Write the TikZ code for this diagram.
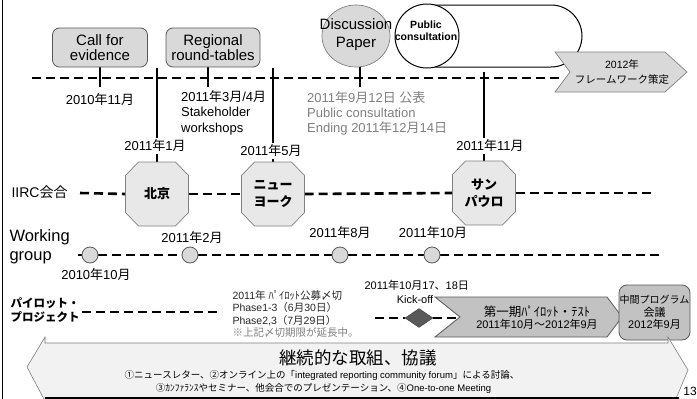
\documentclass[tikz,border=0pt]{standalone}
\usepackage{fontspec}
\setmainfont{Liberation Sans}
\newfontfamily\jpfont{Noto Sans CJK JP}
\usetikzlibrary{shapes.geometric}
\XeTeXinterchartokenstate=1
\newXeTeXintercharclass\cjkclass
\newcount\mycc
\mycc="3000
\loop\XeTeXcharclass\mycc=\cjkclass \advance\mycc by 1 \ifnum\mycc<"A000 \repeat
\mycc="FF00
\loop\XeTeXcharclass\mycc=\cjkclass \advance\mycc by 1 \ifnum\mycc<"FFF0 \repeat
\mycc="2460
\loop\XeTeXcharclass\mycc=\cjkclass \advance\mycc by 1 \ifnum\mycc<"2500 \repeat
\XeTeXcharclass"203B=\cjkclass
\XeTeXinterchartoks 0 \cjkclass = {\jpfont}
\XeTeXinterchartoks 4095 \cjkclass = {\jpfont}
\XeTeXinterchartoks \cjkclass 0 = {\rmfamily}
\XeTeXinterchartoks \cjkclass 4095 = {\rmfamily}
\newcommand\fsz[2]{\fontsize{#1}{#2}\selectfont}
\pgfdeclarelayer{bg}
\pgfsetlayers{bg,main}
\definecolor{lgray}{gray}{0.85}
\definecolor{mgray}{gray}{0.76}
\definecolor{ogray}{gray}{0.91}
\definecolor{tgray}{gray}{0.5}
\definecolor{dgray}{gray}{0.35}
\tikzset{
  dashedline/.style={line width=2.6pt, dash pattern=on 9pt off 5pt},
  vline/.style={line width=2.2pt},
  topbox/.style={draw=dgray, fill=lgray, rounded corners=7pt, line width=0.8pt,
    minimum width=95pt, minimum height=39pt, inner sep=0pt, align=center, font=\fsz{15}{15.5}},
  datel/.style={font=\fsz{13}{15}, inner sep=2pt},
  octfill/.style={fill=ogray, draw=tgray, line width=0.7pt},
  octtext/.style={minimum width=63pt, minimum height=64pt, inner sep=0pt, align=center, font=\bfseries\fsz{13}{17}},
  wgc/.style={circle, draw=dgray, fill=lgray, line width=0.8pt, minimum size=16pt, inner sep=0pt},
  chevlight/.style={fill=lgray, draw=tgray, line width=0.7pt},
  chevmid/.style={fill=mgray, draw=dgray, line width=0.8pt},
}
\newcommand\octo[4]{%
  \filldraw[octfill] ({#2-31.5},{#3-18.5}) -- ({#2-18.5},{#3-32}) -- ({#2+18.5},{#3-32}) -- ({#2+31.5},{#3-18.5}) -- ({#2+31.5},{#3+18.5}) -- ({#2+18.5},{#3+32}) -- ({#2-18.5},{#3+32}) -- ({#2-31.5},{#3+18.5}) -- cycle;
  \node[octtext] (#1) at (#2,#3) {#4};}
\begin{document}
\begin{tikzpicture}[x=1pt,y=-1pt]
\useasboundingbox (0,0) rectangle (697,399);
\begin{pgfonlayer}{bg}
\fill[white] (0,0) rectangle (697,399);
\end{pgfonlayer}
\draw[line width=1pt] (2,0) -- (2,399);

% ---------- top row ----------
\node[topbox] (cfe) at (100,47.5) {Call for\\evidence};
\node[topbox, minimum width=94pt] (rrt) at (213,47.5) {Regional\\round-tables};
\filldraw[fill=lgray, draw=tgray, line width=0.7pt] (356,36) ellipse [x radius=34pt, y radius=31pt];
\node[align=center, font=\fsz{15}{18}] (disc) at (356,35) {Discussion\\Paper};
\filldraw[fill=white, draw=black, line width=1pt, rounded corners=31pt] (405,5) rectangle (582,67);
\filldraw[fill=white, draw=black, line width=1pt] (427,36) circle [radius=32pt];
\node[align=center, font=\bfseries\fsz{10.5}{12}] (pc) at (426,31) {Public\\consultation};
\filldraw[chevlight] (555,52) -- (665,52) -- (687,72) -- (665,92) -- (555,92) -- (570,72) -- cycle;
\node[align=center, font=\fsz{10.5}{15}] (fw) at (622,72) {2012年\\フレームワーク策定};

\node[datel] (d1) at (100,100) {2010年11月};
\node[datel, anchor=north west, align=left, font=\fsz{13}{15.5}] (d2) at (179,88) {2011年3月/4月\\Stakeholder\\workshops};
\node[datel, anchor=north west, align=left, text=tgray] (d3) at (305,89) {2011年9月12日 公表\\Public consultation\\Ending 2011年12月14日};

% ---------- IIRC row ----------
\node[anchor=west, font=\fsz{14}{16}] (iirc) at (8,192) {IIRC会合};
\octo{bj}{157}{194}{北京}
\octo{ny}{273}{194}{ニュー\\ヨーク}
\octo{sp}{484}{193}{サン\\パウロ}
\node[datel] (m1) at (155,146) {2011年1月};
\node[datel] (m5) at (271,151) {2011年5月};
\node[datel] (m11) at (490,146) {2011年11月};

% ---------- Working group row ----------
\node[anchor=west, align=left, font=\fsz{16.5}{19}] (wg) at (6,247) {Working\\group};
\node[wgc] (c1) at (90,255) {};
\node[wgc] (c2) at (190,255) {};
\node[wgc] (c3) at (340,255) {};
\node[wgc] (c4) at (432,255) {};
\node[datel] (w1) at (96,275) {2010年10月};
\node[datel] (w2) at (192,238) {2011年2月};
\node[datel] (w3) at (340,233) {2011年8月};
\node[datel] (w4) at (433,233) {2011年10月};

% ---------- pilot row ----------
\node[anchor=west, align=left, font=\bfseries\fsz{11.5}{14}] (pilot) at (7,310) {パイロット・\\プロジェクト};
\node[anchor=north west, align=left, font=\fsz{10.5}{12.3}, text=black!85] (pinfo) at (229,287) {2011年 ﾊﾟｲﾛｯﾄ公募〆切\\Phase1-3（6月30日）\\Phase2,3（7月29日）\\\textcolor{tgray}{※上記〆切期限が延長中。}};
\node[anchor=west, font=\fsz{11}{13}] (ko1) at (361,285) {2011年10月17、18日};
\node[font=\fsz{11}{13}] (ko2) at (415,300) {Kick-off};
\node[diamond, fill=black!65, draw=black!75, minimum width=28pt, minimum height=19pt, inner sep=0pt] (dia) at (419,318) {};
\filldraw[chevmid] (435,297) -- (607,297) -- (622,317) -- (607,337) -- (435,337) -- (460,317) -- cycle;
\node[align=center] (pt) at (537,318) {{\fsz{12.5}{13}第一期ﾊﾟｲﾛｯﾄ・ﾃｽﾄ}\\{\fsz{11}{13}2011年10月～2012年9月}};
\node[draw=dgray, fill=mgray, rounded corners=8pt, line width=0.8pt, minimum width=71pt, minimum height=55pt, inner sep=0pt, align=center, font=\fsz{11}{12.5}] (mid) at (654.5,312.5) {{\fsz{10}{12.5}中間プログラム}\\会議\\2012年9月};

% ---------- bottom arrow ----------
\filldraw[fill=black!5, draw=tgray, line width=0.6pt] (45,401) -- (27,367) -- (45,337) -- (45,343) -- (668,343) -- (668,337) -- (688,370) -- (675,401);
\draw[line width=3pt] (45,398.5) -- (679,398.5);
\node[font=\fsz{17.5}{20}] (cont) at (358,358) {継続的な取組、協議};
\node[font=\fsz{9.5}{12}] (l1) at (322,375) {①ニュースレター、②オンライン上の「integrated reporting community forum」による討論、};
\node[font=\fsz{9.5}{12}] (l2) at (323.5,388) {③ｶﾝﾌｧﾗﾝｽやセミナー、他会合でのプレゼンテーション、④One-to-one Meeting};
\node[font=\fsz{12}{14}] (pg) at (690,391) {13};

% ---------- connectors ----------
\begin{pgfonlayer}{bg}
\coordinate (tl0) at (32,78);
\coordinate (tl1) at (562,78);
\draw[dashedline] (tl0) -- (tl1);
\coordinate (ta) at (100,87);
\draw[vline] (cfe.south) -- (ta);
\coordinate (tb0) at (208,67);
\coordinate (tb1) at (208,87);
\draw[vline] (tb0) -- (tb1);
\coordinate (tc0) at (360,66);
\coordinate (tc1) at (360,87);
\draw[vline] (tc0) -- (tc1);
\coordinate (v1) at (157,68);
\draw[vline] (v1) -- (v1 |- m1.north);
\draw[vline] (v1 |- m1.south) -- (bj.north);
\coordinate (v5) at (273,68);
\draw[vline] (v5) -- (v5 |- m5.north);
\draw[vline] (v5 |- m5.south) -- (ny.north);
\coordinate (v11) at (484,72);
\draw[vline] (v11) -- (v11 |- m11.north);
\draw[vline] (v11 |- m11.south) -- (sp.north);
\coordinate (i0) at (80,193);
\coordinate (i1) at (655,193);
\draw[dashedline] (i0) -- (bj.west);
\draw[dashedline] (bj.east) -- (ny.west);
\draw[dashedline] (ny.east) -- (sp.west);
\draw[dashedline] (sp.east) -- (i1);
\coordinate (g0) at (78,255);
\coordinate (g1) at (662,255);
\draw[dashedline] (g0) -- (c1.west);
\draw[dashedline] (c1.east) -- (c2.west);
\draw[dashedline] (c2.east) -- (c3.west);
\draw[dashedline] (c3.east) -- (c4.west);
\draw[dashedline] (c4.east) -- (g1);
\coordinate (p0) at (82,312);
\coordinate (p1) at (222,312);
\draw[dashedline] (p0) -- (p1);
\coordinate (k0) at (375,318);
\coordinate (k1) at (459,318);
\draw[dashedline] (k0) -- (dia.west);
\draw[dashedline] (dia.east) -- (k1);
\end{pgfonlayer}
\end{tikzpicture}
\end{document}
